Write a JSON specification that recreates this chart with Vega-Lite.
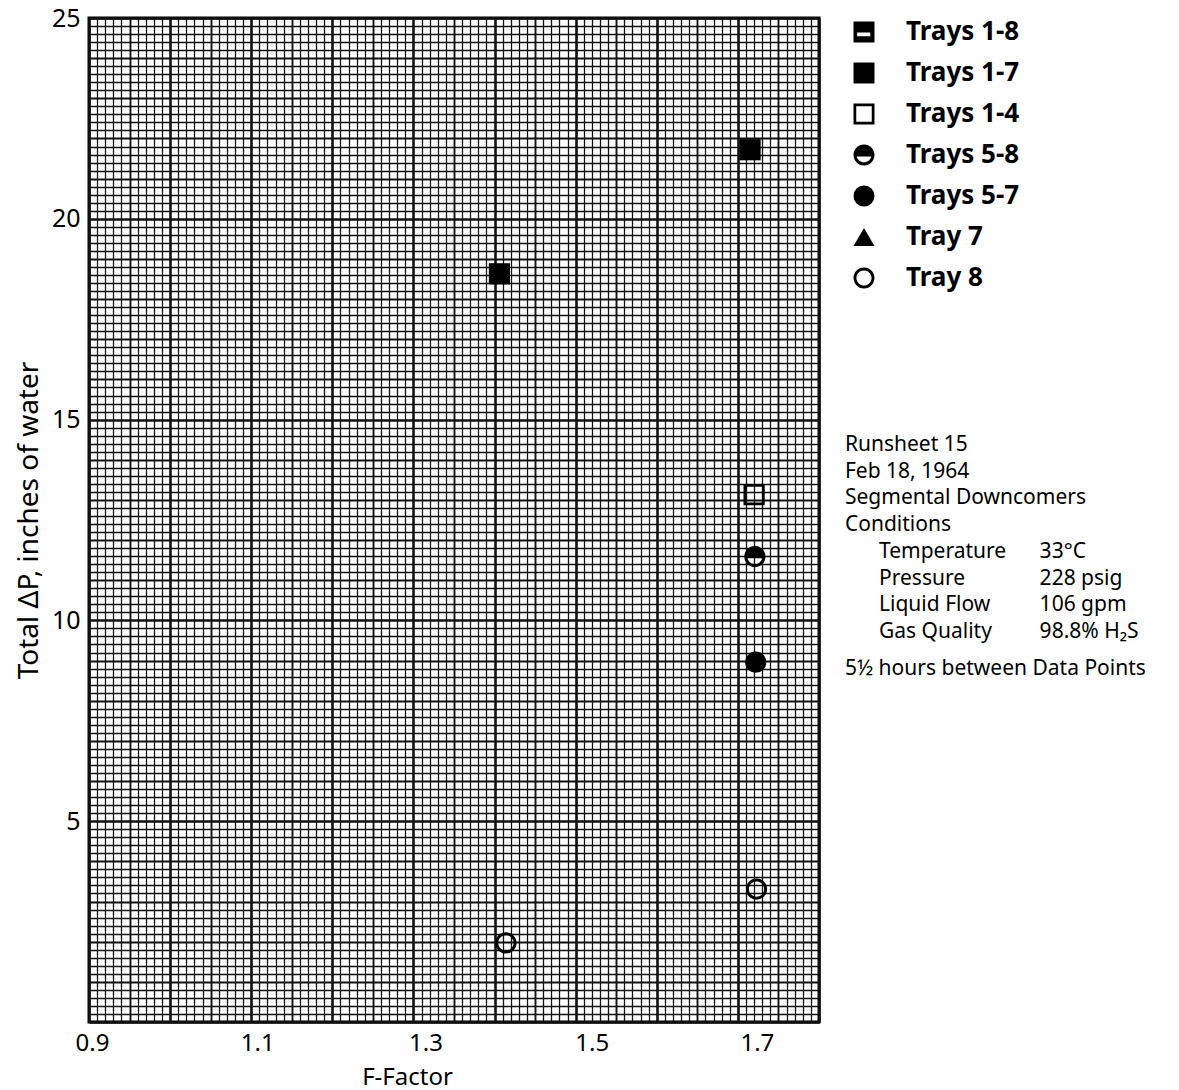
{
  "$schema": "https://vega.github.io/schema/vega-lite/v6.json",
  "width": 730,
  "height": 1004,
  "autosize": {"type": "none"},
  "padding": {"left": 89, "top": 18, "right": 360, "bottom": 68},
  "background": "white",
  "config": {
    "font": "Noto Sans",
    "view": {"stroke": "black", "strokeWidth": 3}
  },
  "resolve": {"axis": {"x": "independent", "y": "independent"}},
  "data": {
    "values": [
      {"series": "Trays 1-7", "f_factor": 1.406, "dp": 18.63},
      {"series": "Trays 1-7", "f_factor": 1.715, "dp": 21.72},
      {"series": "Trays 1-4", "f_factor": 1.72, "dp": 13.13},
      {"series": "Trays 5-8", "f_factor": 1.721, "dp": 11.59},
      {"series": "Trays 5-7", "f_factor": 1.722, "dp": 8.96},
      {"series": "Tray 8", "f_factor": 1.414, "dp": 1.97},
      {"series": "Tray 8", "f_factor": 1.723, "dp": 3.31}
    ]
  },
  "layer": [
    {
      "data": {"values": [{"block": "graph paper"}]},
      "mark": {"type": "text", "text": ""},
      "encoding": {
        "x": {
          "datum": 1.35,
          "scale": {"domain": [0.9, 1.8], "nice": false, "zero": false},
          "axis": {
            "orient": "bottom",
            "title": null,
            "tickCount": 90,
            "ticks": false,
            "labels": false,
            "domain": false,
            "grid": true,
            "gridColor": "#111111",
            "gridOpacity": 1,
            "gridWidth": {
              "condition": [
                {"test": "round(datum.value * 100) % 10 === 0", "value": 2.6},
                {"test": "round(datum.value * 100) % 5 === 0", "value": 1.9}
              ],
              "value": 1.3
            }
          }
        },
        "y": {
          "datum": 12.5,
          "scale": {"domain": [0, 25], "nice": false, "zero": false},
          "axis": {
            "orient": "left",
            "title": null,
            "tickCount": 125,
            "ticks": false,
            "labels": false,
            "domain": false,
            "grid": true,
            "gridColor": "#111111",
            "gridOpacity": 1,
            "gridWidth": {
              "condition": [
                {"test": "round(datum.value * 5) % 25 === 0", "value": 2.6},
                {"test": "round(datum.value * 5) % 5 === 0", "value": 1.9}
              ],
              "value": 1.3
            }
          }
        }
      }
    },
    {
      "mark": {"type": "point", "filled": true, "opacity": 1, "color": "black", "strokeWidth": 0, "size": 450},
      "encoding": {
        "x": {
          "field": "f_factor",
          "type": "quantitative",
          "axis": {
            "orient": "bottom",
            "title": "F-Factor",
            "titleFontSize": 24,
            "titleFontWeight": "normal",
            "titleColor": "black",
            "titleX": 318,
            "titleY": 62,
            "titleBaseline": "alphabetic",
            "values": [0.9, 1.1, 1.3, 1.5, 1.7],
            "format": ".1f",
            "ticks": false,
            "domain": false,
            "grid": false,
            "labelOverlap": false,
            "labelFlush": false,
            "labelFontSize": 24,
            "labelColor": "black",
            "labelPadding": 9,
            "labelOffset": {
              "condition": [
                {"test": "abs(datum.value - 1.7) < 0.001", "value": 19},
                {"test": "abs(datum.value - 1.5) < 0.001", "value": 16},
                {"test": "abs(datum.value - 1.3) < 0.001", "value": 12},
                {"test": "abs(datum.value - 1.1) < 0.001", "value": 6}
              ],
              "value": 3
            }
          }
        },
        "y": {
          "field": "dp",
          "type": "quantitative",
          "axis": {
            "orient": "left",
            "title": "Total ΔP, inches of water",
            "titleFontSize": 28,
            "titleFontWeight": "normal",
            "titleColor": "black",
            "titlePadding": 8,
            "values": [5, 10, 15, 20, 25],
            "format": "d",
            "ticks": false,
            "domain": false,
            "grid": false,
            "labelOverlap": false,
            "labelFlush": false,
            "labelFontSize": 25,
            "labelColor": "black",
            "labelPadding": 9
          }
        },
        "shape": {
          "field": "series",
          "type": "nominal",
          "scale": {
            "domain": ["Trays 1-8", "Trays 1-7", "Trays 1-4", "Trays 5-8", "Trays 5-7", "Tray 7", "Tray 8"],
            "range": [
              "M-1,-1 L1,-1 L1,1 L-1,1 Z M-0.65,0.05 L-0.65,0.4 L0.6,0.4 L0.6,0.05 Z",
              "square",
              "M-1,-1 L1,-1 L1,1 L-1,1 Z M-0.74,-0.74 L-0.74,0.74 L0.74,0.74 L0.74,-0.74 Z",
              "M-1,0 A1,1 0 1,1 1,0 A1,1 0 1,1 -1,0 Z M0.7,0.15 L-0.7,0.15 A0.72,0.72 0 0,0 0.7,0.15 Z",
              "circle",
              "triangle-up",
              "M-1,0 A1,1 0 1,1 1,0 A1,1 0 1,1 -1,0 Z M-0.72,0 A0.72,0.72 0 1,0 0.72,0 A0.72,0.72 0 1,0 -0.72,0 Z"
            ]
          },
          "legend": {
            "title": null,
            "orient": "none",
            "legendX": 762,
            "legendY": 1,
            "padding": 0,
            "symbolSize": 440,
            "symbolFillColor": "black",
            "symbolStrokeWidth": 0,
            "symbolOpacity": 1,
            "labelFontSize": 26,
            "labelFontWeight": "bold",
            "labelColor": "black",
            "labelOffset": 29,
            "rowPadding": 15,
            "labelLimit": 300
          }
        }
      }
    },
    {
      "data": {"values": [{"block": "run"}]},
      "mark": {
        "type": "text",
        "align": "left",
        "baseline": "top",
        "fontSize": 21,
        "lineHeight": 26.7,
        "color": "black",
        "text": ["Runsheet 15", "Feb 18, 1964", "Segmental Downcomers", "Conditions"]
      },
      "encoding": {"x": {"datum": 1.832, "axis": null}, "y": {"datum": 14.64, "axis": null}}
    },
    {
      "data": {"values": [{"block": "condition names"}]},
      "mark": {
        "type": "text",
        "align": "left",
        "baseline": "top",
        "fontSize": 21,
        "lineHeight": 26.7,
        "color": "black",
        "text": ["Temperature", "Pressure", "Liquid Flow", "Gas Quality"]
      },
      "encoding": {"x": {"datum": 1.874, "axis": null}, "y": {"datum": 11.98, "axis": null}}
    },
    {
      "data": {"values": [{"block": "condition values"}]},
      "mark": {
        "type": "text",
        "align": "left",
        "baseline": "top",
        "fontSize": 21,
        "lineHeight": 26.7,
        "color": "black",
        "text": ["33°C", "228 psig", "106 gpm", "98.8% H₂S"]
      },
      "encoding": {"x": {"datum": 2.072, "axis": null}, "y": {"datum": 11.98, "axis": null}}
    },
    {
      "data": {"values": [{"block": "interval"}]},
      "mark": {
        "type": "text",
        "align": "left",
        "baseline": "top",
        "fontSize": 21,
        "color": "black",
        "text": "5½ hours between Data Points"
      },
      "encoding": {"x": {"datum": 1.832, "axis": null}, "y": {"datum": 9.06, "axis": null}}
    }
  ]
}
